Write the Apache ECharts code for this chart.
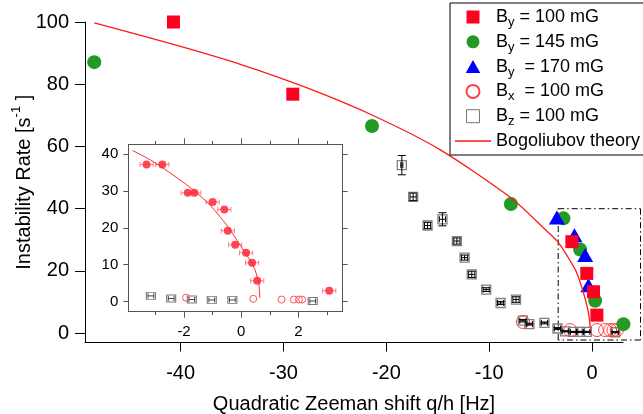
<!DOCTYPE html>
<html>
<head>
<meta charset="utf-8">
<script src="https://cdn.jsdelivr.net/npm/echarts@6.0.0/dist/echarts.min.js"></script>
<style>
  html, body { margin: 0; padding: 0; background: #fff; }
  #main { width: 643px; height: 414px; }
</style>
</head>
<body>
<div id="main"></div>
<script>
// main panel
var by100Q = [-40.7, -29.1, -1.97, -0.52, 0.13, 0.46];
var by100Rate = [100, 76.8, 29.4, 19.2, 13.3, 5.8];
var by145Q = [-48.4, -21.4, -7.9, -2.79, -1.17, 0.29, 3.04];
var by145Rate = [87.1, 66.6, 41.5, 36.9, 26.9, 10.4, 2.9];
var by170Q = [-3.43, -1.72, -0.68, -0.36];
var by170Rate = [37.2, 31.5, 25.1, 15.4];
var bxQ = [-6.73, -2.14, 0.46, 1.26, 1.75, 2.07, 2.4];
var bxRate = [3.6, 1.0, 1.0, 1.0, 1.0, 1.0, 1.0];
var bzQ = [-18.5, -17.4, -16.0, -14.55, -13.15, -12.4, -11.7, -10.3, -8.9, -7.4, -6.73, -6.1, -4.64, -3.37, -2.62, -1.82, -1.17, -0.52, 2.24];
var bzRate = [54.0, 43.8, 34.6, 36.6, 29.6, 24.3, 18.9, 14.0, 9.7, 10.8, 4.0, 2.9, 3.3, 1.5, 0.6, 0.4, 0.4, 0.4, 0.3];
var bzErrQ = [0.1, 0.3, 0.3, 0.3, 0.3, 0.3, 0.3, 0.3, 0.3, 0.3, 0.3, 0.3, 0.3, 0.3, 0.3, 0.3, 0.3, 0.3, 0.3];
var bzErrRate = [3.1, 1.2, 1.0, 2.1, 1.0, 0.8, 1.0, 0.6, 0.5, 0.9, 0.4, 0.3, 0.3, 0.3, 0.2, 0.2, 0.2, 0.2, 0.2];
var theoryQ = [-48.4, -40.7, -34.2, -27.7, -21.2, -14.8, -7.9, -4.56, -3.27, -1.65, -1.33, -0.84, -0.36, -0.19];
var theoryRate = [99.7, 92.8, 86.4, 78.8, 69.8, 59.0, 43.5, 33.3, 29.1, 20.5, 17.9, 13.0, 6.6, 1.8];
var boxQ = [-3.3, 4.7, 4.7, -3.3, -3.3];
var boxRate = [40, 40, -2.2, -2.2, 40];
var mainXTicks = [-40, -30, -20, -10, 0];
var mainYTicks = [0, 20, 40, 60, 80, 100];

// inset
var insetQ = [-3.31, -2.76, -1.87, -1.64, -1.0, -0.59, -0.47, -0.21, 0.17, 0.38, 0.56, 3.08];
var insetRate = [37.2, 37.2, 29.5, 29.5, 27.0, 25.0, 19.2, 15.4, 13.2, 10.5, 5.6, 2.9];
var insetErrQ = [0.23, 0.23, 0.23, 0.23, 0.23, 0.23, 0.23, 0.23, 0.23, 0.23, 0.23, 0.23];
var insetOpenQ = [-1.93, 0.42, 1.41, 1.84, 2.02, 2.13];
var insetOpenRate = [1.0, 0.7, 0.5, 0.5, 0.5, 0.5];
var insetSqQ = [-3.16, -2.45, -1.73, -1.03, -0.31, 2.5];
var insetSqRate = [1.5, 0.8, 0.5, 0.4, 0.4, 0.1];
var insetSqErrQ = [0.1, 0.1, 0.1, 0.1, 0.1, 0.1];
var insetTheoryQ = [-3.8, -3.08, -1.91, -1.21, -0.74, -0.35, 0.07, 0.42, 0.6, 0.65];
var insetTheoryRate = [41.0, 38.0, 31.7, 27.1, 23.0, 19.0, 14.0, 9.7, 5.4, 0.9];
var insetMajorX = [-2, 0, 2];
var insetMinorX = [-3, -1, 1, 3];
var insetYTicks = [0, 10, 20, 30, 40];

var legendText = {
  'By100': 'B{s|y} = 100 mG',
  'By145': 'B{s|y} = 145 mG',
  'By170': 'B{s|y}  = 170 mG',
  'Bx100': 'B{s|x}  = 100 mG',
  'Bz100': 'B{s|z} = 100 mG',
  'Bogoliubov theory': 'Bogoliubov theory'
};

var FONT = '"Liberation Sans", Arial, sans-serif';
var ICON_SQUARE = 'path://M0,0L10,0L10,10L0,10Z';
var ICON_CIRCLE = 'path://M5,0A5,5,0,1,1,5,10A5,5,0,1,1,5,0Z';
var ICON_TRIANGLE = 'path://M5,0L10,9L0,9Z';
var ICON_LINE = 'path://M0,0L34,0L34,1.3L0,1.3Z';

function zip(a, b, c, d) {
  return a.map(function (v, i) {
    var row = [v, b[i]];
    if (c) row.push(c[i]);
    if (d) row.push(d[i]);
    return row;
  });
}

// one row per edge of the dash-dot box: [q1, rate1, q2, rate2]
var boxEdges = boxQ.slice(1).map(function (q, i) {
  return [boxQ[i], boxRate[i], q, boxRate[i + 1]];
});

function errorBars(color, capX, capY) {
  return function (params, api) {
    var x = api.value(0), y = api.value(1), ex = api.value(2), ey = api.value(3) || 0;
    var l = api.coord([x - ex, y]), r = api.coord([x + ex, y]);
    var t = api.coord([x, y + ey]), b = api.coord([x, y - ey]);
    var st = { stroke: color, lineWidth: 1 };
    var kids = [
      { type: 'line', shape: { x1: l[0], y1: l[1], x2: r[0], y2: r[1] }, style: st },
      { type: 'line', shape: { x1: l[0], y1: l[1] - capX, x2: l[0], y2: l[1] + capX }, style: st },
      { type: 'line', shape: { x1: r[0], y1: r[1] - capX, x2: r[0], y2: r[1] + capX }, style: st }
    ];
    if (ey > 0) {
      kids.push({ type: 'line', shape: { x1: t[0], y1: t[1], x2: b[0], y2: b[1] }, style: st });
      kids.push({ type: 'line', shape: { x1: t[0] - capY, y1: t[1], x2: t[0] + capY, y2: t[1] }, style: st });
      kids.push({ type: 'line', shape: { x1: b[0] - capY, y1: b[1], x2: b[0] + capY, y2: b[1] }, style: st });
    }
    return { type: 'group', children: kids };
  };
}

function boxEdge(params, api) {
  var p1 = api.coord([api.value(0), api.value(1)]);
  var p2 = api.coord([api.value(2), api.value(3)]);
  return {
    type: 'line',
    shape: { x1: p1[0], y1: p1[1], x2: p2[0], y2: p2[1] },
    style: { stroke: '#000', lineWidth: 1, lineDash: [6, 3, 1.5, 3] }
  };
}

var chart = echarts.init(document.getElementById('main'));

var insetAxisLine = { show: true, onZero: false, lineStyle: { color: '#555', width: 1 } };

var option = {
  animation: false,
  textStyle: { fontFamily: FONT },
  grid: [
    { left: 85, top: 22, right: 20, bottom: 71.5, outerBoundsMode: 'none', containLabel: false },
    { left: 128.3, top: 144.3, width: 214.4, height: 167.4, outerBoundsMode: 'none', containLabel: false }
  ],
  legend: {
    data: [
      { name: 'By100', icon: ICON_SQUARE },
      { name: 'By145', icon: ICON_CIRCLE },
      { name: 'By170', icon: ICON_TRIANGLE },
      { name: 'Bx100', icon: ICON_CIRCLE },
      { name: 'Bz100', icon: ICON_SQUARE, itemStyle: { borderColor: '#777', borderWidth: 1 } },
      { name: 'Bogoliubov theory', icon: ICON_LINE }
    ],
    orient: 'vertical',
    left: 450,
    top: 3,
    padding: [2, 24, 2, 5],
    itemWidth: 36,
    itemHeight: 13,
    itemGap: 0.8,
    symbolKeepAspect: true,
    selectedMode: false,
    borderColor: '#000',
    borderWidth: 1,
    backgroundColor: '#fff',
    formatter: function (name) { return legendText[name]; },
    textStyle: {
      fontFamily: FONT, fontSize: 18, color: '#000', lineHeight: 24,
      rich: { s: { fontFamily: FONT, fontSize: 13, color: '#000', lineHeight: 13, verticalAlign: 'bottom' } }
    }
  },
  xAxis: [
    {
      gridIndex: 0, type: 'value', min: -49.3, max: 3.0,
      axisLine: { show: true, onZero: false, lineStyle: { color: '#000', width: 1 } },
      axisTick: { show: true, inside: false, length: 9, customValues: mainXTicks, lineStyle: { color: '#000' } },
      axisLabel: { customValues: mainXTicks, fontSize: 20, color: '#000', margin: 21, fontFamily: FONT },
      splitLine: { show: false },
      name: 'Quadratic Zeeman shift q/h [Hz]',
      nameLocation: 'middle', nameGap: 52, nameMoveOverlap: false,
      nameTextStyle: { fontSize: 20, color: '#000', fontFamily: FONT }
    },
    {
      gridIndex: 1, type: 'value', min: -3.95, max: 3.55, position: 'bottom',
      axisLine: insetAxisLine,
      axisTick: { show: true, inside: false, length: 6, customValues: insetMajorX, lineStyle: { color: '#555' } },
      axisLabel: { customValues: insetMajorX, fontSize: 15, color: '#000', margin: 13, fontFamily: FONT },
      splitLine: { show: false }
    },
    {
      gridIndex: 1, type: 'value', min: -3.95, max: 3.55, position: 'bottom',
      axisLine: { show: false, onZero: false },
      axisTick: { show: true, inside: false, length: 3.5, customValues: insetMinorX, lineStyle: { color: '#555' } },
      axisLabel: { show: false },
      splitLine: { show: false }
    },
    {
      gridIndex: 1, type: 'value', min: -3.95, max: 3.55, position: 'top',
      axisLine: insetAxisLine,
      axisTick: { show: true, inside: false, length: 6, customValues: insetMajorX, lineStyle: { color: '#555' } },
      axisLabel: { show: false },
      splitLine: { show: false }
    },
    {
      gridIndex: 1, type: 'value', min: -3.95, max: 3.55, position: 'top',
      axisLine: { show: false, onZero: false },
      axisTick: { show: true, inside: false, length: 3.5, customValues: insetMinorX, lineStyle: { color: '#555' } },
      axisLabel: { show: false },
      splitLine: { show: false }
    }
  ],
  yAxis: [
    {
      gridIndex: 0, type: 'value', min: -3, max: 100,
      axisLine: { show: true, onZero: false, lineStyle: { color: '#000', width: 1 } },
      axisTick: { show: true, inside: false, length: 10, customValues: mainYTicks, lineStyle: { color: '#000' } },
      axisLabel: { customValues: mainYTicks, fontSize: 20, color: '#000', margin: 16, fontFamily: FONT },
      splitLine: { show: false },
      name: 'Instability Rate [s{sup|-1} ]',
      nameLocation: 'middle', nameGap: 47, nameMoveOverlap: false,
      nameTextStyle: {
        fontSize: 20, color: '#000', fontFamily: FONT, lineHeight: 28,
        rich: { sup: { fontSize: 13, color: '#000', fontFamily: FONT, lineHeight: 13, verticalAlign: 'top' } }
      }
    },
    {
      gridIndex: 1, type: 'value', min: -2.8, max: 42.7, position: 'left',
      axisLine: insetAxisLine,
      axisTick: { show: true, inside: false, length: 5, customValues: insetYTicks, lineStyle: { color: '#555' } },
      axisLabel: { customValues: insetYTicks, fontSize: 15, color: '#000', margin: 10, fontFamily: FONT },
      splitLine: { show: false }
    },
    {
      gridIndex: 1, type: 'value', min: -2.8, max: 42.7, position: 'right',
      axisLine: insetAxisLine,
      axisTick: { show: true, inside: false, length: 5, customValues: insetYTicks, lineStyle: { color: '#555' } },
      axisLabel: { show: false },
      splitLine: { show: false }
    }
  ],
  series: [
    {
      name: 'Bogoliubov theory', type: 'line', xAxisIndex: 0, yAxisIndex: 0,
      data: zip(theoryQ, theoryRate), smooth: 0.25, symbol: 'none',
      color: '#ff1a1a', itemStyle: { color: '#ff1a1a' }, lineStyle: { color: '#ff1a1a', width: 1.3 }
    },
    {
      name: 'zoom box', type: 'custom', xAxisIndex: 0, yAxisIndex: 0, silent: true, clip: false,
      data: boxEdges, renderItem: boxEdge,
      encode: { x: [0, 2], y: [1, 3] }
    },
    {
      name: 'bz err', type: 'custom', xAxisIndex: 0, yAxisIndex: 0, clip: false, silent: true,
      data: zip(bzQ, bzRate, bzErrQ, bzErrRate),
      renderItem: errorBars('#000', 3, 4), z: 3
    },
    {
      name: 'Bz100', type: 'scatter', xAxisIndex: 0, yAxisIndex: 0, clip: false,
      data: zip(bzQ, bzRate), symbol: 'rect', symbolSize: 9,
      itemStyle: { color: 'rgba(255,255,255,0)', borderColor: '#808080', borderWidth: 1.3, opacity: 1 }, z: 2
    },
    {
      name: 'Bx100', type: 'scatter', xAxisIndex: 0, yAxisIndex: 0, clip: false,
      data: zip(bxQ, bxRate), symbol: 'circle', symbolSize: 13,
      itemStyle: { color: 'rgba(255,255,255,0)', borderColor: '#ff4040', borderWidth: 1, opacity: 1 }
    },
    {
      name: 'By145', type: 'scatter', xAxisIndex: 0, yAxisIndex: 0, clip: false,
      data: zip(by145Q, by145Rate), symbol: 'circle', symbolSize: 14,
      itemStyle: { color: '#239a23', opacity: 1 }
    },
    {
      name: 'By170', type: 'scatter', xAxisIndex: 0, yAxisIndex: 0, clip: false,
      data: zip(by170Q, by170Rate), symbol: 'triangle', symbolSize: [16, 14],
      itemStyle: { color: '#0000ff', opacity: 1 }
    },
    {
      name: 'By100', type: 'scatter', xAxisIndex: 0, yAxisIndex: 0, clip: false,
      data: zip(by100Q, by100Rate), symbol: 'rect', symbolSize: 13,
      itemStyle: { color: '#ff0020', opacity: 1 }
    },
    // inset
    {
      name: 'inset theory', type: 'line', xAxisIndex: 1, yAxisIndex: 1,
      data: zip(insetTheoryQ, insetTheoryRate), smooth: 0.3, symbol: 'none',
      lineStyle: { color: '#ff2a2a', width: 1 }
    },
    {
      name: 'inset sq err', type: 'custom', xAxisIndex: 1, yAxisIndex: 1, silent: true,
      data: zip(insetSqQ, insetSqRate, insetSqErrQ),
      renderItem: errorBars('#444', 2.5, 0)
    },
    {
      name: 'inset sq', type: 'scatter', xAxisIndex: 1, yAxisIndex: 1,
      data: zip(insetSqQ, insetSqRate), symbol: 'rect', symbolSize: [9, 7],
      itemStyle: { color: 'rgba(255,255,255,0)', borderColor: '#777', borderWidth: 1, opacity: 1 }
    },
    {
      name: 'inset open', type: 'scatter', xAxisIndex: 1, yAxisIndex: 1,
      data: zip(insetOpenQ, insetOpenRate), symbol: 'circle', symbolSize: 7,
      itemStyle: { color: 'rgba(255,255,255,0)', borderColor: '#ff5050', borderWidth: 1, opacity: 1 }
    },
    {
      name: 'inset err', type: 'custom', xAxisIndex: 1, yAxisIndex: 1, silent: true,
      data: zip(insetQ, insetRate, insetErrQ),
      renderItem: errorBars('#ff7a85', 2.5, 0)
    },
    {
      name: 'inset by', type: 'scatter', xAxisIndex: 1, yAxisIndex: 1,
      data: zip(insetQ, insetRate), symbol: 'circle', symbolSize: 8,
      itemStyle: { color: '#ff3344', opacity: 0.9 }
    }
  ]
};

chart.setOption(option);
</script>
</body>
</html>
